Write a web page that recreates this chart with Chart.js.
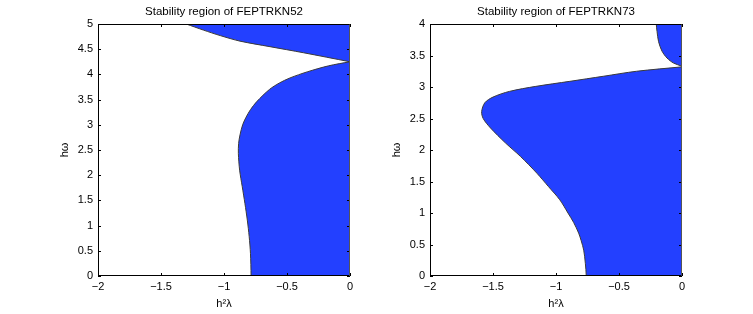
<!DOCTYPE html>
<html>
<head>
<meta charset="utf-8">
<script src="https://cdn.jsdelivr.net/npm/chart.js@4"></script>
<style>
  body { margin: 0; background: #fff; }
  #wrap { position: relative; width: 753px; height: 314px; }
  canvas { position: absolute; top: 0; }
</style>
</head>
<body>
<div id="wrap">
  <canvas id="c52" width="376" height="314" style="left:0"></canvas>
  <canvas id="c73" width="377" height="314" style="left:376px"></canvas>
</div>
<script>
// axis ticks
const xTicks = [-2, -1.5, -1, -0.5, 0];
const xTickLabels = ['−2', '−1.5', '−1', '−0.5', '0'];
const yTicks52 = [0, 0.5, 1, 1.5, 2, 2.5, 3, 3.5, 4, 4.5, 5];
const yTickLabels52 = ['0', '0.5', '1', '1.5', '2', '2.5', '3', '3.5', '4', '4.5', '5'];
const yTicks73 = [0, 0.5, 1, 1.5, 2, 2.5, 3, 3.5, 4];
const yTickLabels73 = ['0', '0.5', '1', '1.5', '2', '2.5', '3', '3.5', '4'];

// FEPTRKN52 boundary curves (h²λ, hω)
const lower52X = [-0.785, -0.79, -0.80, -0.815, -0.834, -0.855, -0.876, -0.886, -0.884, -0.873, -0.852, -0.825, -0.79, -0.74, -0.64, -0.56, -0.476, -0.34, -0.17, 0];
const lower52Y = [0, 0.45, 0.78, 1.11, 1.44, 1.77, 2.10, 2.43, 2.63, 2.80, 3.00, 3.15, 3.30, 3.46, 3.70, 3.83, 3.93, 4.05, 4.17, 4.25];
const upper52X = [-1.30, -1.164, -1.03, -0.873, -0.635, -0.37, 0];
const upper52Y = [5.0, 4.88, 4.77, 4.66, 4.55, 4.43, 4.25];

// FEPTRKN73 boundary curves
const lower73X = [-0.76, -0.767, -0.78, -0.80, -0.82, -0.86, -0.905, -0.97, -1.06, -1.151, -1.283, -1.40, -1.52, -1.578, -1.59, -1.565, -1.50, -1.37, -1.16, -0.89, -0.625, -0.36, 0];
const lower73Y = [0, 0.20, 0.41, 0.56, 0.68, 0.85, 1.0, 1.21, 1.42, 1.63, 1.90, 2.11, 2.35, 2.50, 2.61, 2.75, 2.84, 2.93, 3.01, 3.09, 3.17, 3.25, 3.32];
const upper73X = [-0.204, -0.198, -0.186, -0.159, -0.119, -0.067, 0];
const upper73Y = [4.0, 3.88, 3.72, 3.57, 3.46, 3.38, 3.33];

// points just outside the axes that close each region (clipped away)
const lower52Head = [[0.5, -0.5], [-0.785, -0.5]], lower52Tail = [[0.5, 4.45]];
const upper52Head = [[0.5, 5.5], [-1.436, 5.5], [-1.436, 5.12]], upper52Tail = [[0.5, 4.0]];
const lower73Head = [[0.5, -0.5], [-0.76, -0.5]], lower73Tail = [[0.5, 3.42]];
const upper73Head = [[0.5, 4.5], [-0.204, 4.5]], upper73Tail = [[0.5, 2.95]];

const FAMILY = "'Liberation Sans', Arial, Helvetica, sans-serif";
const FONT = { family: FAMILY, size: 11 };
const BLUE = 'rgb(35, 64, 255)';

function region(head, xs, ys, tail) {
  const pts = head.map(([x, y]) => ({ x, y }));
  xs.forEach((x, i) => pts.push({ x, y: ys[i] }));
  tail.forEach(([x, y]) => pts.push({ x, y }));
  return {
    data: pts,
    showLine: true,
    fill: 'shape',
    backgroundColor: BLUE,
    borderColor: '#3a3a3a',
    borderWidth: 1,
    pointRadius: 0,
    tension: 0.3,
    capBezierPoints: false
  };
}

// MATLAB style box with inward ticks on all four sides
const matlabAxes = {
  id: 'matlabAxes',
  afterDatasetsDraw(chart) {
    const { ctx, chartArea: a, scales: { x, y } } = chart;
    ctx.save();
    ctx.strokeStyle = '#000';
    ctx.lineWidth = 1;
    ctx.beginPath();
    x.ticks.forEach(t => {
      const px = Math.round(x.getPixelForValue(t.value)) + 0.5;
      ctx.moveTo(px, a.bottom); ctx.lineTo(px, a.bottom - 3);
      ctx.moveTo(px, a.top); ctx.lineTo(px, a.top + 3);
    });
    y.ticks.forEach(t => {
      const py = Math.round(y.getPixelForValue(t.value)) + 0.5;
      ctx.moveTo(a.left, py); ctx.lineTo(a.left + 3, py);
      ctx.moveTo(a.right, py); ctx.lineTo(a.right - 3, py);
    });
    ctx.stroke();
    // left, top and bottom edges black; right edge sits on the fill and reads grey
    ctx.beginPath();
    ctx.moveTo(a.right - 0.5, a.top + 0.5);
    ctx.lineTo(a.left + 0.5, a.top + 0.5);
    ctx.lineTo(a.left + 0.5, a.bottom - 0.5);
    ctx.lineTo(a.right - 0.5, a.bottom - 0.5);
    ctx.stroke();
    ctx.strokeStyle = '#555';
    ctx.beginPath();
    ctx.moveTo(a.right - 0.5, a.top + 0.5);
    ctx.lineTo(a.right - 0.5, a.bottom - 0.5);
    ctx.stroke();
    ctx.restore();
  }
};

function makeChart(id, title, yMax, yTicks, yTickLabels, datasets, padLeft, padRight) {
  return new Chart(document.getElementById(id), {
    type: 'scatter',
    data: { datasets },
    plugins: [matlabAxes],
    options: {
      responsive: false,
      animation: false,
      layout: { padding: { left: padLeft, right: padRight, top: 0, bottom: 0 } },
      plugins: {
        legend: { display: false },
        tooltip: { enabled: false },
        title: {
          display: true,
          text: title,
          fullSize: false,
          color: '#000',
          font: { family: FAMILY, size: 11.5, weight: 'normal' },
          padding: { top: 5, bottom: 5.2 }
        }
      },
      scales: {
        x: {
          type: 'linear',
          min: -2,
          max: 0,
          afterBuildTicks: s => { s.ticks = xTicks.map(v => ({ value: v })); },
          afterFit: s => { s.height = 38; },
          ticks: { color: '#000', font: FONT, padding: 4.5, maxRotation: 0, callback: (v, i) => xTickLabels[i] },
          grid: { display: false, drawTicks: false },
          border: { display: false },
          title: { display: true, text: 'h²λ', color: '#000', font: FONT, padding: { top: 0, bottom: 3.4 } }
        },
        y: {
          type: 'linear',
          min: 0,
          max: yMax,
          afterBuildTicks: s => { s.ticks = yTicks.map(v => ({ value: v })); },
          afterFit: s => { s.width = 40; },
          ticks: { color: '#000', font: FONT, padding: 5, callback: (v, i) => yTickLabels[i] },
          grid: { display: false, drawTicks: false },
          border: { display: false },
          title: { display: true, text: 'hω', color: '#000', font: FONT, padding: { top: 0, bottom: 0 } }
        }
      }
    }
  });
}

makeChart('c52', 'Stability region of FEPTRKN52', 5, yTicks52, yTickLabels52, [
  region(lower52Head, lower52X, lower52Y, lower52Tail),
  region(upper52Head, upper52X, upper52Y, upper52Tail)
], 58, 26);

makeChart('c73', 'Stability region of FEPTRKN73', 4, yTicks73, yTickLabels73, [
  region(lower73Head, lower73X, lower73Y, lower73Tail),
  region(upper73Head, upper73X, upper73Y, upper73Tail)
], 14, 71);
</script>
</body>
</html>
